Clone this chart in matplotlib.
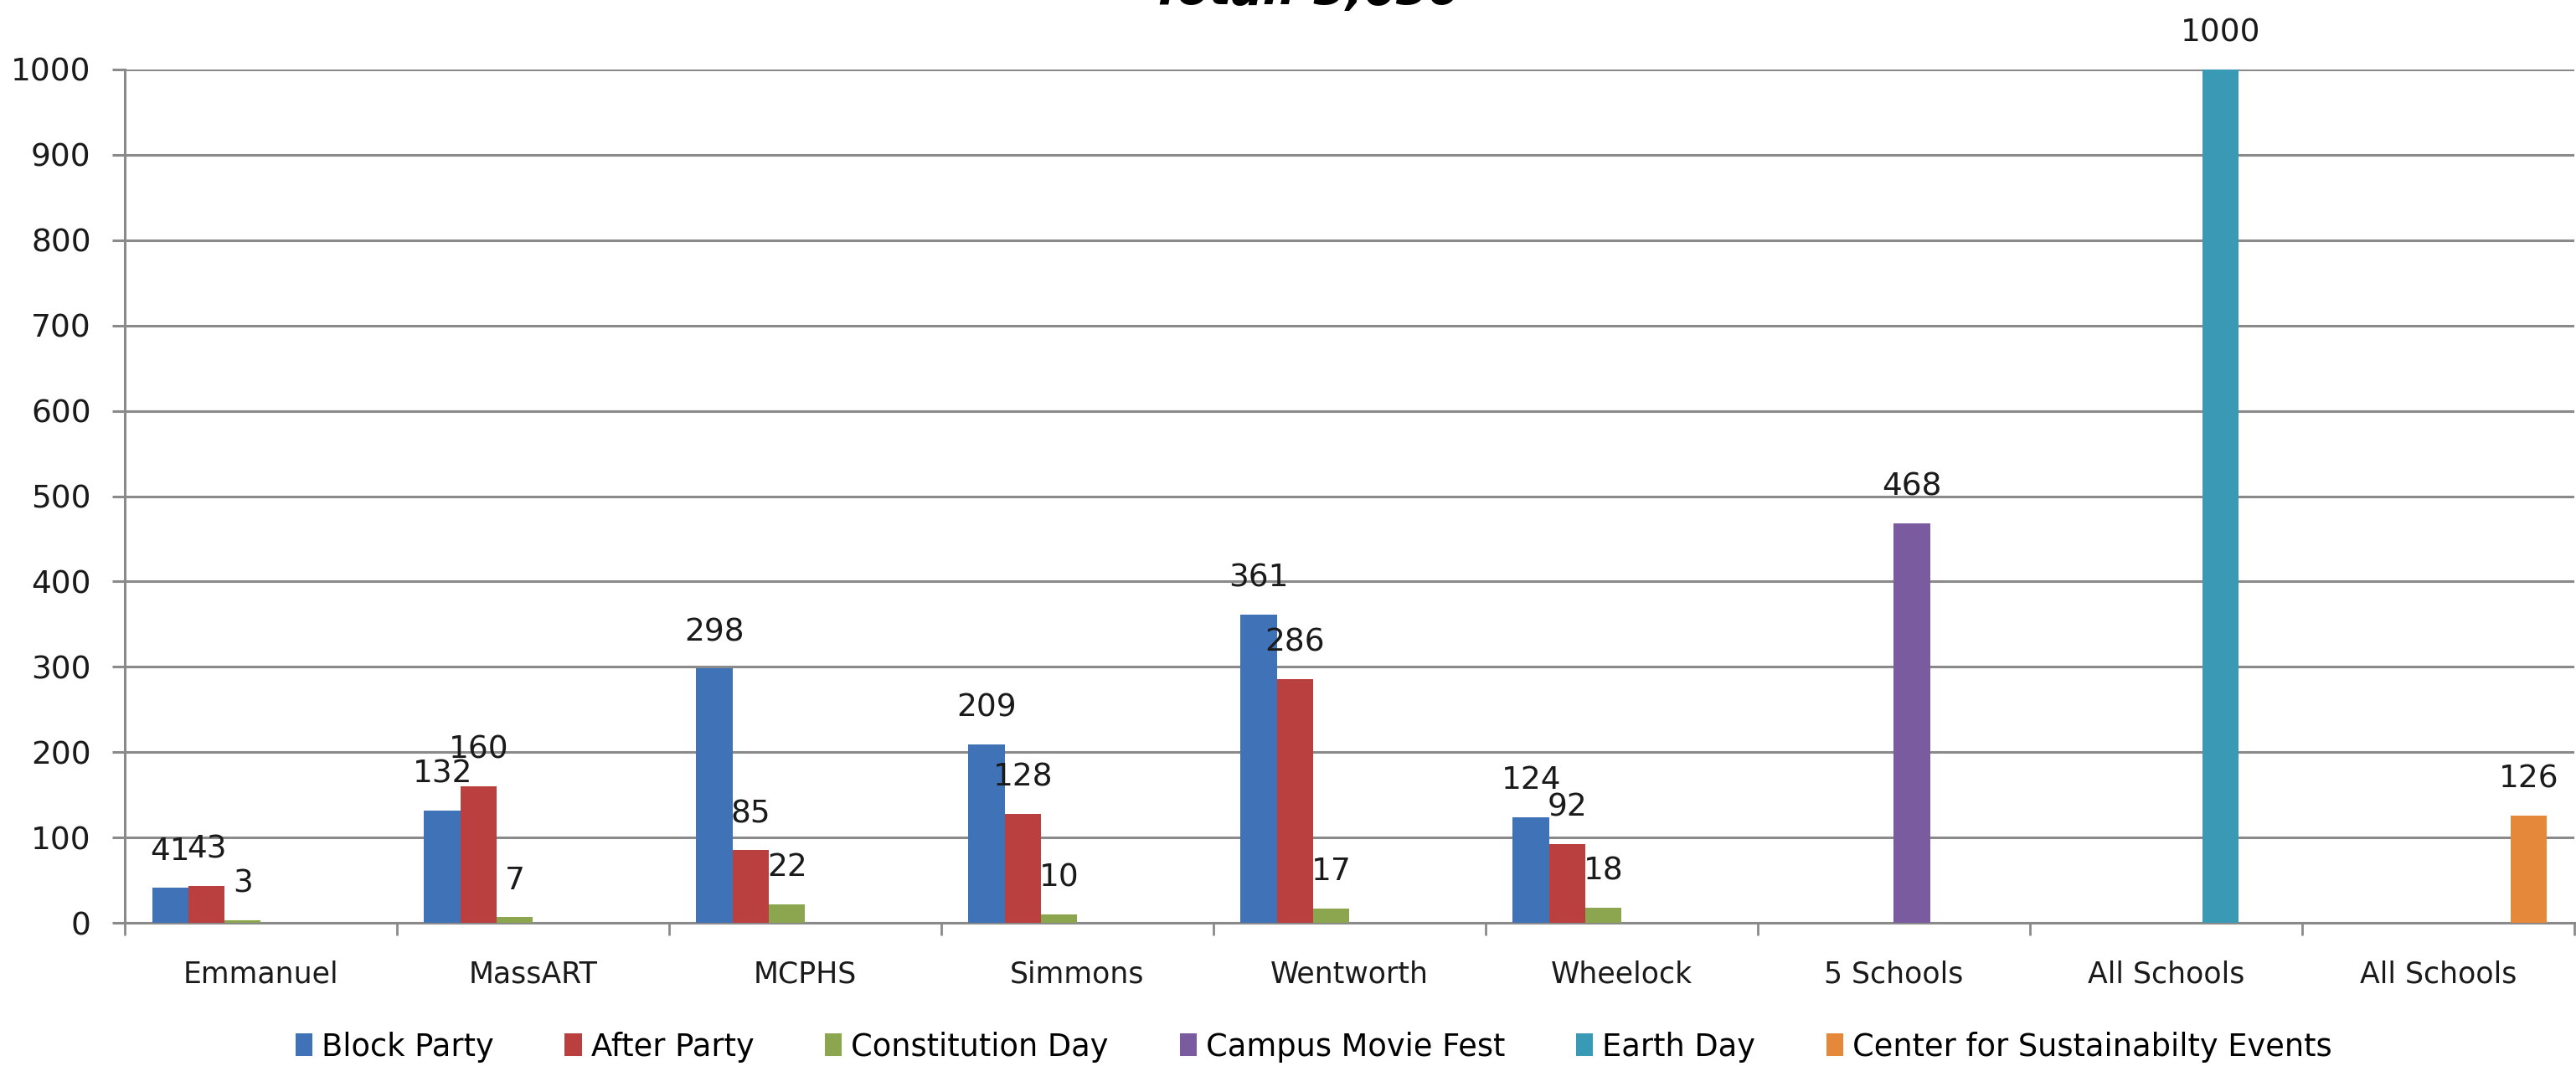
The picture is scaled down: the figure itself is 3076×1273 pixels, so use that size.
import numpy as np
import matplotlib.pyplot as plt

categories = ["Emmanuel", "MassART", "MCPHS", "Simmons", "Wentworth",
              "Wheelock", "5 Schools", "All Schools", "All Schools"]
series_names = ["Block Party", "After Party", "Constitution Day",
                "Campus Movie Fest", "Earth Day",
                "Center for Sustainabilty Events"]

block_party = [41, 132, 298, 209, 361, 124, 0, 0, 0]
after_party = [43, 160, 85, 128, 286, 92, 0, 0, 0]
constitution_day = [3, 7, 22, 10, 17, 18, 0, 0, 0]
campus_movie_fest = [0, 0, 0, 0, 0, 0, 468, 0, 0]
earth_day = [0, 0, 0, 0, 0, 0, 0, 1000, 0]
sustainability_events = [0, 0, 0, 0, 0, 0, 0, 0, 126]

y_ticks = [0, 100, 200, 300, 400, 500, 600, 700, 800, 900, 1000]
title = "Total: 3,630"

series = [block_party, after_party, constitution_day,
          campus_movie_fest, earth_day, sustainability_events]
colors = ["#4072b8", "#b9403f", "#8ca64f", "#7a5ba0", "#3a9ab5", "#e5883a"]

grid_color = "#8a8a8a"
text_color = "#1a1a1a"

fig = plt.figure(figsize=(30.76, 12.73), dpi=100)
ax = fig.add_axes([0.04844, 0.1343, 0.9509, 0.8005])

x = np.arange(len(categories))
w = 1 / 7.5
for i, (vals, name, col) in enumerate(zip(series, series_names, colors)):
    pos = x + (i - 2.5) * w
    ax.bar(pos, vals, width=w, color=col, label=name, zorder=3)
    # labels only where there is a value
    for px, v in zip(pos, vals):
        if v:
            ax.annotate(str(v), (px, v), xytext=(0, 24), textcoords="offset points",
                        ha="center", va="baseline", fontsize=27,
                        color=text_color, zorder=5)

ax.set_xlim(-0.5, len(categories) - 0.5)
ax.set_ylim(0, 1000)
ax.set_yticks(y_ticks)
ax.yaxis.grid(True, color=grid_color, linewidth=2.2, zorder=0)
ax.set_axisbelow(True)

# category boundary ticks, labels at the centres
ax.set_xticks(np.arange(-0.5, len(categories), 1.0))
ax.set_xticklabels([])
ax.set_xticks(x, minor=True)
ax.set_xticklabels(categories, minor=True)
ax.tick_params(axis="x", which="major", length=11, width=2, color=grid_color,
               direction="out")
ax.tick_params(axis="x", which="minor", length=0, pad=32, labelsize=25,
               labelcolor=text_color)
ax.tick_params(axis="y", length=11, width=2.2, color=grid_color, pad=18,
               labelsize=27, labelcolor=text_color)

for side in ["top", "right"]:
    ax.spines[side].set_visible(False)
for side in ["left", "bottom"]:
    ax.spines[side].set_color(grid_color)
    ax.spines[side].set_linewidth(2.2)

fig.text(0.507, 0.996, title, ha="center", va="baseline", fontsize=40,
         fontweight="bold", fontstyle="italic")

fig.legend(loc="center", bbox_to_anchor=(0.51, 0.018), ncol=6, frameon=False,
           fontsize=26.5, handlelength=0.55, handleheight=0.75, handletextpad=0.3,
           columnspacing=2.3, borderaxespad=0, borderpad=0)

fig.savefig("out.png", dpi=100)
